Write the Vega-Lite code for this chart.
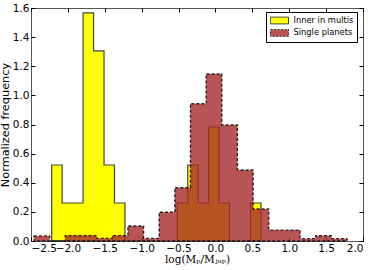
{
  "$schema": "https://vega.github.io/schema/vega-lite/v6.json",
  "width": 332,
  "height": 233,
  "autosize": {"type": "none"},
  "padding": {"left": 31, "top": 8, "right": 11, "bottom": 29},
  "config": {
    "view": {"stroke": "#555", "strokeWidth": 1},
    "font": "DejaVu Sans",
    "axis": {
      "domain": false,
      "grid": false,
      "tickColor": "#000",
      "tickSize": -4,
      "tickWidth": 1,
      "labelColor": "#000",
      "labelFont": "DejaVu Sans",
      "labelFontSize": 10.5,
      "labelOverlap": false,
      "labelBound": false,
      "titleColor": "#000",
      "titleFontWeight": "normal"
    }
  },
  "datasets": {
    "bars": [
      {"series": "Inner in multis", "x0": -2.2194, "x1": -2.0776, "h": 0.522},
      {"series": "Inner in multis", "x0": -2.0776, "x1": -1.9357, "h": 0.261},
      {"series": "Inner in multis", "x0": -1.9357, "x1": -1.7939, "h": 0.261},
      {"series": "Inner in multis", "x0": -1.7939, "x1": -1.652, "h": 1.567},
      {"series": "Inner in multis", "x0": -1.652, "x1": -1.5102, "h": 1.306},
      {"series": "Inner in multis", "x0": -1.5102, "x1": -1.3684, "h": 0.522},
      {"series": "Inner in multis", "x0": -1.3684, "x1": -1.2265, "h": 0.261},
      {"series": "Inner in multis", "x0": -1.2265, "x1": -1.0847, "h": 0},
      {"series": "Inner in multis", "x0": -1.0847, "x1": -0.9428, "h": 0},
      {"series": "Inner in multis", "x0": -0.9428, "x1": -0.801, "h": 0},
      {"series": "Inner in multis", "x0": -0.801, "x1": -0.6592, "h": 0},
      {"series": "Inner in multis", "x0": -0.6592, "x1": -0.5173, "h": 0},
      {"series": "Inner in multis", "x0": -0.5173, "x1": -0.3755, "h": 0.261},
      {"series": "Inner in multis", "x0": -0.3755, "x1": -0.2336, "h": 0.522},
      {"series": "Inner in multis", "x0": -0.2336, "x1": -0.0918, "h": 0.261},
      {"series": "Inner in multis", "x0": -0.0918, "x1": 0.05, "h": 0.783},
      {"series": "Inner in multis", "x0": 0.05, "x1": 0.1919, "h": 0.261},
      {"series": "Inner in multis", "x0": 0.1919, "x1": 0.3337, "h": 0},
      {"series": "Inner in multis", "x0": 0.3337, "x1": 0.4755, "h": 0},
      {"series": "Inner in multis", "x0": 0.4755, "x1": 0.6174, "h": 0.261},
      {"series": "Single planets", "x0": -2.459, "x1": -2.2469, "h": 0.035},
      {"series": "Single planets", "x0": -2.2469, "x1": -2.0348, "h": 0},
      {"series": "Single planets", "x0": -2.0348, "x1": -1.8227, "h": 0.037},
      {"series": "Single planets", "x0": -1.8227, "x1": -1.6106, "h": 0.037},
      {"series": "Single planets", "x0": -1.6106, "x1": -1.3985, "h": 0.018},
      {"series": "Single planets", "x0": -1.3985, "x1": -1.1864, "h": 0.037},
      {"series": "Single planets", "x0": -1.1864, "x1": -0.9743, "h": 0.103},
      {"series": "Single planets", "x0": -0.9743, "x1": -0.7622, "h": 0.018},
      {"series": "Single planets", "x0": -0.7622, "x1": -0.5501, "h": 0.197},
      {"series": "Single planets", "x0": -0.5501, "x1": -0.338, "h": 0.366},
      {"series": "Single planets", "x0": -0.338, "x1": -0.1259, "h": 0.943},
      {"series": "Single planets", "x0": -0.1259, "x1": 0.0862, "h": 1.147},
      {"series": "Single planets", "x0": 0.0862, "x1": 0.2983, "h": 0.797},
      {"series": "Single planets", "x0": 0.2983, "x1": 0.5104, "h": 0.488},
      {"series": "Single planets", "x0": 0.5104, "x1": 0.7225, "h": 0.22},
      {"series": "Single planets", "x0": 0.7225, "x1": 0.9346, "h": 0.075},
      {"series": "Single planets", "x0": 0.9346, "x1": 1.1467, "h": 0.075},
      {"series": "Single planets", "x0": 1.1467, "x1": 1.3588, "h": 0.016},
      {"series": "Single planets", "x0": 1.3588, "x1": 1.5709, "h": 0.036},
      {"series": "Single planets", "x0": 1.5709, "x1": 1.783, "h": 0.016}
    ]
  },
  "data": {"name": "bars"},
  "transform": [{"fold": ["x0", "x1"], "as": ["edge", "x"]}],
  "resolve": {"axis": {"x": "independent", "y": "independent"}},
  "layer": [
    {
      "transform": [{"filter": "datum.series === 'Inner in multis'"}],
      "mark": {"type": "area", "interpolate": "linear", "stroke": "#444", "strokeWidth": 1.2, "fillOpacity": 1},
      "encoding": {
        "x": {
          "field": "x", "type": "quantitative",
          "scale": {"domain": [-2.5, 2.0], "nice": false, "zero": false},
          "axis": {"values": [-2.5, -2.0, -1.5, -1.0, -0.5, 0.0, 0.5, 1.0, 1.5, 2.0], "format": ".1f", "labelPadding": 6, "title": "log(Mₚ/Mⱼᵤₚ)", "titleFont": "DejaVu Serif", "titleFontSize": 10.5, "titlePadding": 1}
        },
        "y": {
          "field": "h", "type": "quantitative", "stack": null,
          "scale": {"domain": [0, 1.6], "nice": false},
          "axis": {"values": [0, 0.2, 0.4, 0.6, 0.8, 1.0, 1.2, 1.4, 1.6], "format": ".1f", "labelPadding": 6, "title": "Normalized frequency", "titleFontSize": 11.3, "titlePadding": 2}
        },
        "color": {
          "field": "series", "type": "nominal",
          "scale": {"domain": ["Inner in multis", "Single planets"], "range": ["#ffff00", "#a52a2a"]},
          "legend": {
            "orient": "none", "legendX": 235, "legendY": 4, "title": null,
            "symbolType": "M-2,-0.75H2V0.75H-2Z", "symbolSize": 81,
            "symbolOffset": 5, "labelOffset": 9,
            "labelFontSize": 8.3, "labelFont": "DejaVu Sans", "labelColor": "#000",
            "strokeColor": "#000", "fillColor": "#fff", "padding": 3.5, "rowPadding": 0.5,
            "symbolStrokeColor": "#333", "symbolStrokeWidth": 1,
            "encode": {
              "symbols": {
                "update": {
                  "stroke": {"value": "#333"},
                  "strokeDash": {"signal": "datum.value === 'Single planets' ? [2, 1.5] : [1, 0]"},
                  "fillOpacity": {"signal": "datum.value === 'Single planets' ? 0.8 : 1"}
                }
              }
            }
          }
        }
      }
    },
    {
      "transform": [{"filter": "datum.series === 'Single planets'"}],
      "mark": {"type": "area", "interpolate": "linear", "stroke": "#000", "strokeOpacity": 0.8, "strokeWidth": 1.4, "strokeDash": [3, 2], "fillOpacity": 0.8},
      "encoding": {
        "x": {
          "field": "x", "type": "quantitative",
          "axis": {"orient": "top", "values": [-2.5, -2.0, -1.5, -1.0, -0.5, 0.0, 0.5, 1.0, 1.5, 2.0], "labels": false, "title": null}
        },
        "y": {
          "field": "h", "type": "quantitative", "stack": null,
          "axis": {"orient": "right", "values": [0, 0.2, 0.4, 0.6, 0.8, 1.0, 1.2, 1.4, 1.6], "labels": false, "title": null}
        },
        "color": {"field": "series", "type": "nominal"}
      }
    }
  ]
}
